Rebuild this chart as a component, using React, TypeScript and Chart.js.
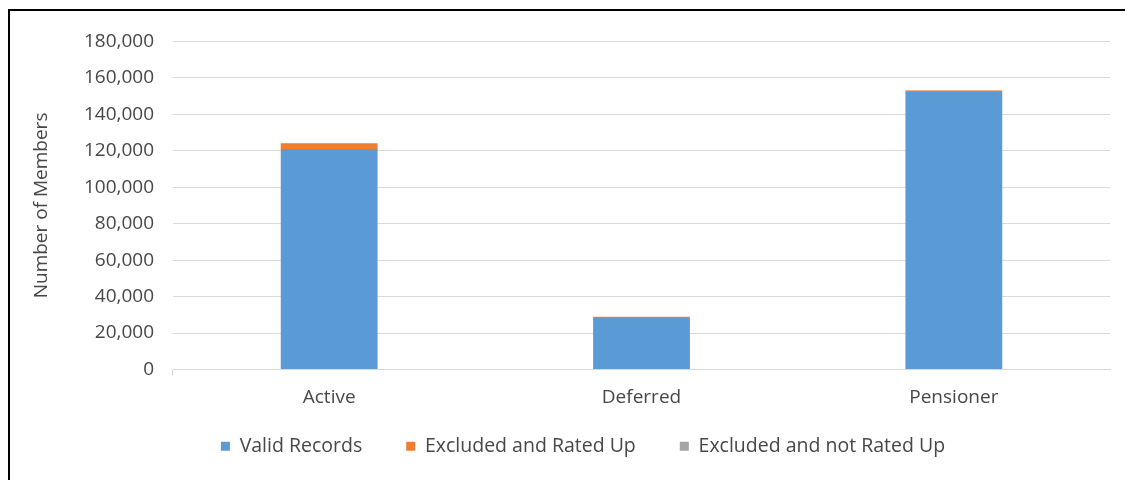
import React, { useEffect, useRef } from "react";
import { Chart, registerables } from "chart.js";

Chart.register(...registerables);

const categories = ["Active", "Deferred", "Pensioner"];
const validRecords = [121000, 28200, 152200];
const excludedRatedUp = [3100, 700, 900];
const excludedNotRatedUp = [60, 20, 40];
const yTicks = [0, 20000, 40000, 60000, 80000, 100000, 120000, 140000, 160000, 180000];

const FONT = "'Open Sans', 'Noto Sans', sans-serif";
const TEXT = "#474747";
const GRID = "#D9D9D9";

const legendShift = {
  id: "legendShift",
  afterLayout(chart: any) {
    const lg = chart.legend;
    if (lg) {
      lg.top -= 25;
      lg.bottom -= 25;
    }
  },
};

export default function App() {
  const ref = useRef<HTMLCanvasElement | null>(null);

  useEffect(() => {
    if (!ref.current) return;
    const chart = new Chart(ref.current, {
      type: "bar",
      data: {
        labels: categories,
        datasets: [
          { label: "Valid Records", data: validRecords, backgroundColor: "#5B9BD5", borderWidth: 0 },
          { label: "Excluded and Rated Up", data: excludedRatedUp, backgroundColor: "#ED7D31", borderWidth: 0 },
          { label: "Excluded and not Rated Up", data: excludedNotRatedUp, backgroundColor: "#A5A5A5", borderWidth: 0 },
        ],
      },
      plugins: [legendShift],
      options: {
        animation: false,
        responsive: false,
        maintainAspectRatio: false,
        datasets: { bar: { categoryPercentage: 1, barPercentage: 0.31 } },
        layout: { padding: { left: 46, right: 23, top: 19, bottom: -11 } },
        plugins: {
          tooltip: { enabled: false },
          legend: {
            position: "bottom",
            labels: {
              boxWidth: 9,
              boxHeight: 9,
              padding: 44,
              color: TEXT,
              font: { family: FONT, size: 19.5 },
            },
          },
        },
        scales: {
          x: {
            stacked: true,
            grid: {
              offset: true,
              drawOnChartArea: false,
              drawTicks: true,
              tickLength: 6,
              color: (ctx: any) => (ctx.index === 0 || ctx.index === categories.length ? GRID : "rgba(0,0,0,0)"),
            },
            border: { display: true, color: GRID, width: 1 },
            ticks: { color: TEXT, font: { family: FONT, size: 19 }, padding: 11 },
            afterFit: (s: any) => { s.height = 48; },
          },
          y: {
            stacked: true,
            min: 0,
            max: 180000,
            afterBuildTicks: (s: any) => { s.ticks = yTicks.map((v) => ({ value: v })); },
            grid: { color: GRID, drawTicks: false },
            border: { display: false },
            ticks: {
              color: TEXT,
              font: { family: FONT, size: 19 },
              padding: 19,
              callback: (v: any) => Number(v).toLocaleString("en-US"),
            },
            title: {
              display: true,
              text: "Number of Members",
              color: TEXT,
              font: { family: FONT, size: 19 },
              padding: { top: -26, bottom: 0 },
            },
            afterFit: (s: any) => { s.width = 117; },
          },
        },
      },
    });
    return () => chart.destroy();
  }, []);

  return (
    <div
      style={{
        width: 1123,
        height: 470,
        borderLeft: "2px solid #000",
        borderTop: "2px solid #000",
        marginTop: 1,
        background: "#fff",
      }}
    >
      <canvas ref={ref} width={1123} height={469} style={{ display: "block" }} />
    </div>
  );
}
